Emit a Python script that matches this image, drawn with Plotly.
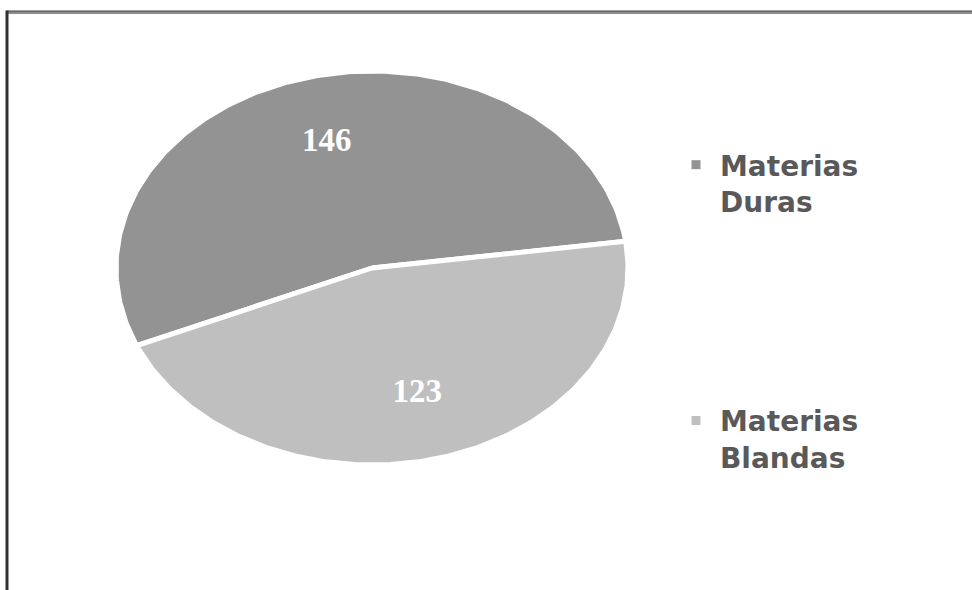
import numpy as np
import plotly.graph_objects as go

# Subject counts by type
categories = ["Materias Duras", "Materias Blandas"]
values = [146, 123]
colors = ["#939393", "#bfbfbf"]

# Canvas and oval pie geometry (pixels)
W, H = 972, 590
cx, cy = 372, 268          # pie centre
rx, ry = 256, 197          # horizontal / vertical radius
start_deg = 203.2          # first slice starts here and runs clockwise
label_r = 0.66             # relative radius of the value labels

# Axis ranges chosen so one data unit equals rx px horizontally and ry px vertically
x_range = [-cx / rx, (W - cx) / rx]
y_range = [-(H - cy) / ry, cy / ry]

fig = go.Figure()
total = float(sum(values))
a0 = start_deg
for name, v, c in zip(categories, values, colors):
    sweep = v / total * 360.0
    a1 = a0 - sweep
    t = np.radians(np.linspace(a0, a1, 240))
    xs = np.concatenate([[0.0], np.cos(t), [0.0]])
    ys = np.concatenate([[0.0], np.sin(t), [0.0]])
    fig.add_trace(go.Scatter(
        x=xs, y=ys, mode="lines", fill="toself", fillcolor=c,
        line=dict(color="white", width=5),
        showlegend=False, hoverinfo="skip",
    ))
    mid = np.radians((a0 + a1) / 2.0)
    fig.add_trace(go.Scatter(
        x=[label_r * np.cos(mid)], y=[label_r * np.sin(mid)],
        mode="text", text=[str(v)],
        textfont=dict(family="Liberation Serif", size=33, color="white", weight="bold"),
        showlegend=False, hoverinfo="skip",
    ))
    a0 = a1

# Legend entries: small grey squares with two-line bold names
for name, c in zip(categories, colors):
    fig.add_trace(go.Scatter(
        x=[None], y=[None], mode="markers",
        marker=dict(symbol="square", size=9, color=c),
        name="<b>" + "<br>".join(name.split()) + "</b>",
        legendgroup=name,
    ))

# Frame: top and left edge lines
fig.add_shape(type="line", xref="paper", yref="paper",
              x0=7 / W, x1=1, y0=1 - 12.5 / H, y1=1 - 12.5 / H,
              line=dict(color="#8c8c8c", width=3))
fig.add_shape(type="line", xref="paper", yref="paper",
              x0=7 / W, x1=1, y0=1 - 11 / H, y1=1 - 11 / H,
              line=dict(color="#404040", width=1))
fig.add_shape(type="line", xref="paper", yref="paper",
              x0=7 / W, x1=7 / W, y0=0, y1=1 - 10.5 / H,
              line=dict(color="#303030", width=3))

fig.update_layout(
    width=W, height=H,
    margin=dict(l=0, r=0, t=0, b=0),
    paper_bgcolor="white", plot_bgcolor="white",
    xaxis=dict(range=x_range, visible=False, fixedrange=True),
    yaxis=dict(range=y_range, visible=False, fixedrange=True),
    showlegend=True,
    legend=dict(
        x=672 / W, y=1 - 140 / H, xanchor="left", yanchor="top",
        traceorder="grouped", tracegroupgap=180, valign="top",
        itemwidth=38,
        font=dict(family="DejaVu Sans", size=28, color="#595959"),
        bgcolor="rgba(0,0,0,0)", itemsizing="trace",
    ),
)

fig.write_html("out.html")
